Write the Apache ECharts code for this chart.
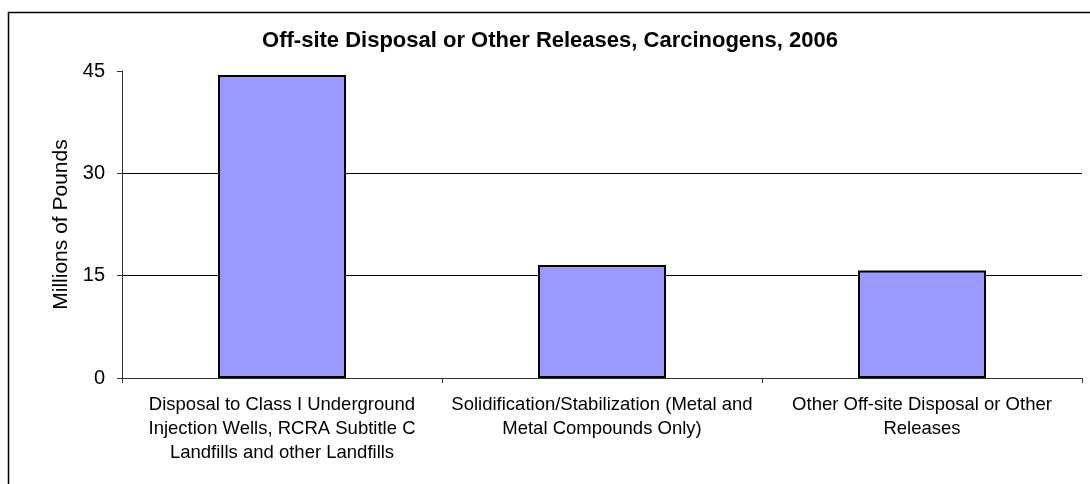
<!DOCTYPE html>
<html>
<head>
<meta charset="utf-8">
<script src="https://cdn.jsdelivr.net/npm/echarts@6/dist/echarts.min.js"></script>
<style>
html,body{margin:0;padding:0;background:#fff;}
#chart{width:1090px;height:484px;}
</style>
</head>
<body>
<div id="chart"></div>
<script>
var titleText = 'Off-site Disposal or Other Releases, Carcinogens, 2006';
var yAxisName = 'Millions of Pounds';
var categories = [
  'Disposal to Class I Underground\nInjection Wells, RCRA Subtitle C\nLandfills and other Landfills',
  'Solidification/Stabilization (Metal and\nMetal Compounds Only)',
  'Other Off-site Disposal or Other\nReleases'
];
var values = [44.4, 16.55, 15.75];
var yTicks = [0, 15, 30, 45];

var chart = echarts.init(document.getElementById('chart'), null, {renderer: 'canvas'});
var font = 'Liberation Sans, Arial, sans-serif';
chart.setOption({
  animation: false,
  backgroundColor: '#fff',
  textStyle: {fontFamily: font},
  title: {
    text: titleText,
    left: 545, top: 25,
    textAlign: 'center',
    textStyle: {fontFamily: font, fontSize: 22, fontWeight: 'bold', color: '#000'}
  },
  graphic: [{
    type: 'rect',
    shape: {x: 8.5, y: 12.5, width: 1200, height: 600},
    style: {fill: 'none', stroke: '#000', lineWidth: 1.5},
    silent: true
  }],
  grid: {left: 122, right: 8, top: 71, bottom: 106, containLabel: false},
  xAxis: {
    type: 'category',
    data: categories,
    axisLine: {lineStyle: {color: '#333', width: 1}},
    axisTick: {show: true, length: 5, lineStyle: {color: '#333'}},
    axisLabel: {
      interval: 0, margin: 15, color: '#000',
      fontFamily: font, fontSize: 18.5, lineHeight: 24, align: 'center'
    }
  },
  yAxis: {
    type: 'value',
    min: yTicks[0], max: yTicks[yTicks.length - 1], interval: 15,
    name: yAxisName,
    nameLocation: 'middle',
    nameGap: 49,
    nameTextStyle: {fontFamily: font, fontSize: 21, color: '#000'},
    axisLine: {show: true, lineStyle: {color: '#333', width: 1}},
    axisTick: {show: true, length: 5, lineStyle: {color: '#333'}},
    axisLabel: {margin: 17, color: '#000', fontFamily: font, fontSize: 20},
    splitLine: {show: true, lineStyle: {color: ['#000', '#000', '#000', 'rgba(0,0,0,0)'], width: 1}}
  },
  series: [{
    type: 'bar',
    data: values,
    barWidth: '40%',
    itemStyle: {color: '#9999FF', borderColor: '#000', borderWidth: 2}
  }]
});
</script>
</body>
</html>
